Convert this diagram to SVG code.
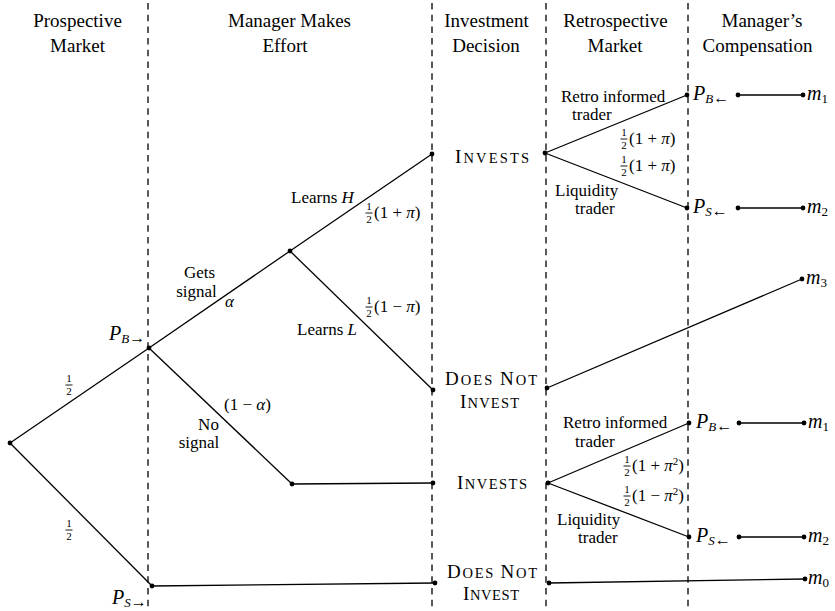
<svg xmlns="http://www.w3.org/2000/svg" width="835" height="611" viewBox="0 0 835 611" font-family="'Liberation Serif', 'DejaVu Serif', serif">
<defs>
<style>
text{font-family:'Liberation Serif','DejaVu Serif',serif;fill:#000}
.h{font-size:19px;text-anchor:middle}
.l{font-size:17px}
.sc{font-size:19px}
.s{font-size:14.5px}
.it{font-style:italic}
.sub{font-size:13px}
.ar{font-size:16px}
.fr{font-size:11px;text-anchor:middle}
.ln{stroke:#000;stroke-width:1.3;fill:none}
.dash{stroke:#000;stroke-width:1.3;stroke-dasharray:6.5 5.2;fill:none}
.dot{fill:#000}
.bar{stroke:#000;stroke-width:0.9}
</style>
</defs>
<rect width="835" height="611" fill="#fff"/>

<g id="columns">
<line class="dash" x1="148" y1="3" x2="148" y2="611"/>
<line class="dash" x1="432" y1="3" x2="432" y2="611"/>
<line class="dash" x1="546" y1="3" x2="546" y2="611"/>
<line class="dash" x1="688" y1="3" x2="688" y2="611"/>
</g>

<g id="headers">
<text class="h" x="77.5" y="27">Prospective</text>
<text class="h" x="77.5" y="52">Market</text>
<text class="h" x="289.5" y="27">Manager Makes</text>
<text class="h" x="285" y="52">Effort</text>
<text class="h" x="486.5" y="27">Investment</text>
<text class="h" x="486" y="52">Decision</text>
<text class="h" x="615.5" y="27">Retrospective</text>
<text class="h" x="615" y="52">Market</text>
<text class="h" x="762" y="27">Manager’s</text>
<text class="h" x="757.5" y="52">Compensation</text>
</g>

<g id="connectors">
<line class="ln" x1="10" y1="443" x2="149" y2="348"/>
<line class="ln" x1="10" y1="443" x2="152" y2="586"/>
<line class="ln" x1="149" y1="348" x2="290" y2="251"/>
<line class="ln" x1="290" y1="251" x2="432" y2="154"/>
<line class="ln" x1="290" y1="251" x2="433" y2="390"/>
<line class="ln" x1="149" y1="348" x2="292" y2="484"/>
<line class="ln" x1="292" y1="484" x2="433" y2="483"/>
<line class="ln" x1="152" y1="586" x2="435" y2="583"/>
<line class="ln" x1="545" y1="153" x2="687" y2="95"/>
<line class="ln" x1="545" y1="153" x2="687" y2="208"/>
<line class="ln" x1="738" y1="95" x2="803" y2="95"/>
<line class="ln" x1="738" y1="208" x2="803" y2="208"/>
<line class="ln" x1="547" y1="388" x2="802" y2="279"/>
<line class="ln" x1="548" y1="483" x2="689" y2="423"/>
<line class="ln" x1="548" y1="483" x2="689" y2="537"/>
<line class="ln" x1="739" y1="423" x2="804" y2="423"/>
<line class="ln" x1="739" y1="537" x2="804" y2="537"/>
<line class="ln" x1="549" y1="583" x2="805" y2="579"/>
</g>

<g id="root"><circle class="dot" cx="10" cy="443" r="2.4"/></g>

<g id="pb-prospective">
<circle class="dot" cx="149" cy="348" r="2.4"/>
<text x="109" y="340"><tspan class="it" font-size="20">P</tspan><tspan class="sub it" dy="3">B</tspan><tspan class="ar">→</tspan></text>
</g>

<g id="ps-prospective">
<circle class="dot" cx="152" cy="586" r="2.4"/>
<text x="112" y="604"><tspan class="it" font-size="20">P</tspan><tspan class="sub it" dy="3">S</tspan><tspan class="ar">→</tspan></text>
</g>

<g id="prob-half-up">
<text class="fr" x="69" y="382">1</text>
<line class="bar" x1="65.5" y1="385" x2="72.5" y2="385"/>
<text class="fr" x="69" y="395">2</text>
</g>
<g id="prob-half-down">
<text class="fr" x="69" y="527">1</text>
<line class="bar" x1="65.5" y1="530" x2="72.5" y2="530"/>
<text class="fr" x="69" y="540">2</text>
</g>

<g id="gets-signal">
<circle class="dot" cx="290" cy="251" r="2.4"/>
<text class="l" x="199.5" y="278" text-anchor="middle">Gets</text>
<text class="l" x="196.5" y="297" text-anchor="middle">signal</text>
<text class="l it" x="225" y="307">α</text>
<text class="l" x="291" y="203">Learns <tspan class="it">H</tspan></text>
<text class="fr" x="369" y="210">1</text>
<line class="bar" x1="365.5" y1="213" x2="372.5" y2="213"/>
<text class="fr" x="369" y="223">2</text>
<text class="l" x="374" y="218">(1 + <tspan class="it">π</tspan>)</text>
<text class="fr" x="369" y="304">1</text>
<line class="bar" x1="365.5" y1="307" x2="372.5" y2="307"/>
<text class="fr" x="369" y="317">2</text>
<text class="l" x="374" y="312">(1 − <tspan class="it">π</tspan>)</text>
<text class="l" x="297" y="335">Learns <tspan class="it">L</tspan></text>
</g>

<g id="no-signal">
<circle class="dot" cx="292" cy="484" r="2.4"/>
<text class="l" x="224" y="410">(1 − <tspan class="it">α</tspan>)</text>
<text class="l" x="208.5" y="430" text-anchor="middle">No</text>
<text class="l" x="199" y="448" text-anchor="middle">signal</text>
</g>

<g id="invests-top">
<circle class="dot" cx="432" cy="154" r="2.4"/>
<circle class="dot" cx="545" cy="153" r="2.4"/>
<text x="455" y="163" textLength="74" lengthAdjust="spacing"><tspan class="sc">I</tspan><tspan class="s">NVESTS</tspan></text>
</g>

<g id="dni-top">
<circle class="dot" cx="433" cy="390" r="2.4"/>
<circle class="dot" cx="547" cy="388" r="2.4"/>
<text x="445" y="385" textLength="92" lengthAdjust="spacing"><tspan class="sc">D</tspan><tspan class="s">OES </tspan><tspan class="sc">N</tspan><tspan class="s">OT</tspan></text>
<text x="460" y="408" textLength="59" lengthAdjust="spacing"><tspan class="sc">I</tspan><tspan class="s">NVEST</tspan></text>
</g>

<g id="invests-low">
<circle class="dot" cx="433" cy="483" r="2.4"/>
<circle class="dot" cx="548" cy="483" r="2.4"/>
<text x="457" y="489" textLength="70" lengthAdjust="spacing"><tspan class="sc">I</tspan><tspan class="s">NVESTS</tspan></text>
</g>

<g id="dni-bottom">
<circle class="dot" cx="435" cy="583" r="2.4"/>
<circle class="dot" cx="549" cy="583" r="2.4"/>
<text x="447" y="578" textLength="90" lengthAdjust="spacing"><tspan class="sc">D</tspan><tspan class="s">OES </tspan><tspan class="sc">N</tspan><tspan class="s">OT</tspan></text>
<text x="463" y="600" textLength="56" lengthAdjust="spacing"><tspan class="sc">I</tspan><tspan class="s">NVEST</tspan></text>
</g>

<g id="retro-top-labels">
<text class="l" x="561" y="102">Retro informed</text>
<text class="l" x="572" y="120">trader</text>
<text class="fr" x="624" y="136">1</text>
<line class="bar" x1="620.5" y1="139" x2="627.5" y2="139"/>
<text class="fr" x="624" y="149">2</text>
<text class="l" x="629" y="144">(1 + <tspan class="it">π</tspan>)</text>
<text class="fr" x="624" y="163">1</text>
<line class="bar" x1="620.5" y1="166" x2="627.5" y2="166"/>
<text class="fr" x="624" y="176">2</text>
<text class="l" x="629" y="171">(1 + <tspan class="it">π</tspan>)</text>
<text class="l" x="555" y="196">Liquidity</text>
<text class="l" x="575" y="214">trader</text>
</g>

<g id="pb-retro-top">
<circle class="dot" cx="687" cy="95" r="2.4"/>
<text x="693" y="100"><tspan class="it" font-size="20">P</tspan><tspan class="sub it" dy="3">B</tspan><tspan class="ar">←</tspan></text>
<circle class="dot" cx="738" cy="95" r="2.4"/>
</g>
<g id="m1-top">
<circle class="dot" cx="803" cy="95" r="2.4"/>
<text x="807" y="100"><tspan class="it" font-size="20">m</tspan><tspan class="sub" dy="3">1</tspan></text>
</g>

<g id="ps-retro-top">
<circle class="dot" cx="687" cy="208" r="2.4"/>
<text x="693" y="213"><tspan class="it" font-size="20">P</tspan><tspan class="sub it" dy="3">S</tspan><tspan class="ar">←</tspan></text>
<circle class="dot" cx="738" cy="208" r="2.4"/>
</g>
<g id="m2-top">
<circle class="dot" cx="803" cy="208" r="2.4"/>
<text x="807" y="213"><tspan class="it" font-size="20">m</tspan><tspan class="sub" dy="3">2</tspan></text>
</g>

<g id="m3">
<circle class="dot" cx="802" cy="279" r="2.4"/>
<text x="806" y="284"><tspan class="it" font-size="20">m</tspan><tspan class="sub" dy="3">3</tspan></text>
</g>

<g id="retro-low-labels">
<text class="l" x="563" y="428">Retro informed</text>
<text class="l" x="575" y="447">trader</text>
<text class="fr" x="627" y="463">1</text>
<line class="bar" x1="623.5" y1="466" x2="630.5" y2="466"/>
<text class="fr" x="627" y="476">2</text>
<text class="l" x="632" y="471">(1 + <tspan class="it">π</tspan><tspan font-size="11" dy="-6">2</tspan><tspan dy="6">)</tspan></text>
<text class="fr" x="627" y="493">1</text>
<line class="bar" x1="623.5" y1="496" x2="630.5" y2="496"/>
<text class="fr" x="627" y="506">2</text>
<text class="l" x="632" y="501">(1 − <tspan class="it">π</tspan><tspan font-size="11" dy="-6">2</tspan><tspan dy="6">)</tspan></text>
<text class="l" x="557" y="525">Liquidity</text>
<text class="l" x="578" y="543">trader</text>
</g>

<g id="pb-retro-low">
<circle class="dot" cx="689" cy="423" r="2.4"/>
<text x="696" y="428"><tspan class="it" font-size="20">P</tspan><tspan class="sub it" dy="3">B</tspan><tspan class="ar">←</tspan></text>
<circle class="dot" cx="739" cy="423" r="2.4"/>
</g>
<g id="m1-low">
<circle class="dot" cx="804" cy="423" r="2.4"/>
<text x="808" y="428"><tspan class="it" font-size="20">m</tspan><tspan class="sub" dy="3">1</tspan></text>
</g>

<g id="ps-retro-low">
<circle class="dot" cx="689" cy="537" r="2.4"/>
<text x="696" y="542"><tspan class="it" font-size="20">P</tspan><tspan class="sub it" dy="3">S</tspan><tspan class="ar">←</tspan></text>
<circle class="dot" cx="739" cy="537" r="2.4"/>
</g>
<g id="m2-low">
<circle class="dot" cx="804" cy="537" r="2.4"/>
<text x="808" y="542"><tspan class="it" font-size="20">m</tspan><tspan class="sub" dy="3">2</tspan></text>
</g>

<g id="m0">
<circle class="dot" cx="805" cy="579" r="2.4"/>
<text x="808" y="584"><tspan class="it" font-size="20">m</tspan><tspan class="sub" dy="3">0</tspan></text>
</g>
</svg>
